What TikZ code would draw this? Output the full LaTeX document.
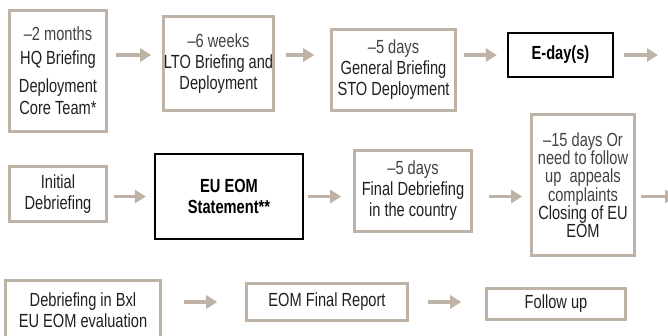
\documentclass[tikz,border=0pt]{standalone}
\usepackage{fontspec}
\setmainfont{Liberation Sans}[FakeStretch=0.77]
\usetikzlibrary{arrows.meta}

\definecolor{framegray}{RGB}{190,179,166}
\definecolor{inkgray}{RGB}{35,31,32}
\newcommand{\lighttext}[1]{{\color{inkgray!85}#1}}

\begin{document}
\begin{tikzpicture}[x=1pt, y=-1pt,
  stage/.style={draw=framegray, line width=2.6pt, inner sep=0pt, align=center,
    text=inkgray, font=\fontsize{19}{21}\selectfont},
  keystage/.style={stage, draw=black, line width=2.2pt, text=black,
    font=\fontsize{19}{21}\selectfont\bfseries},
  flow/.style={draw=framegray, line width=3.2pt, -{Triangle[length=11pt, width=13pt]}}]

  \useasboundingbox (0, 0) rectangle (668, 335);

  % first row
  \node[stage, minimum width=97, minimum height=121] (hq) at (58, 71)
    {\lighttext{–2 months}\\[3pt] HQ Briefing\\[7pt] Deployment\\[1pt] Core Team*};
  \node[stage, minimum width=110, minimum height=94] (lto) at (218.5, 63.5)
    {\lighttext{–6 weeks}\\ LTO Briefing and\\ Deployment};
  \node[stage, minimum width=124, minimum height=81] (gen) at (393.5, 70)
    {\lighttext{–5 days}\\ General Briefing\\ STO Deployment};
  \node[keystage, minimum width=105, minimum height=44] (eday) at (560.5, 55) {E-day(s)};
  \coordinate (out1) at (658, 55);

  \draw[flow, shorten <=8pt, shorten >=11pt] (hq.east |- eday.west) -- (lto.west |- eday.west);
  \draw[flow, shorten <=11pt, shorten >=16pt] (lto.east |- eday.west) -- (gen.west |- eday.west);
  \draw[flow, shorten <=7pt, shorten >=10pt] (gen.east |- eday.west) -- (eday.west);
  \draw[flow, shorten <=10pt] (eday.east) -- (out1);

  % second row
  \node[stage, minimum width=97, minimum height=55] (init) at (58, 194)
    {Initial\\ Debriefing};
  \node[keystage, minimum width=148, minimum height=85] (stmt) at (229, 196.5)
    {EU EOM\\ Statement**};
  \node[stage, minimum width=117, minimum height=81] (final) at (413, 191)
    {\lighttext{–5 days}\\ Final Debriefing\\ in the country};
  \node[stage, minimum width=103, minimum height=141, font=\fontsize{19}{17.5}\selectfont] (closing) at (583, 185)
    {\lighttext{–15 days Or}\\ \lighttext{need to follow}\\ \lighttext{up~ appeals}\\
     \lighttext{complaints}\\ Closing of EU\\ EOM};
  \coordinate (out2) at (676, 196.5);

  \draw[flow, shorten <=6pt, shorten >=8pt] (init.east |- stmt.west) -- (stmt.west);
  \draw[flow, shorten <=4pt, shorten >=12pt] (stmt.east) -- (final.west |- stmt.east);
  \draw[flow, shorten <=16pt, shorten >=8pt] (final.east |- stmt.east) -- (closing.west |- stmt.east);
  \draw[flow, shorten <=5pt] (closing.east |- stmt.east) -- (out2);

  % third row
  \node[stage, minimum width=155, minimum height=59] (bxl) at (83, 310)
    {Debriefing in Bxl\\ EU EOM evaluation};
  \node[stage, minimum width=161, minimum height=37] (report) at (327, 302)
    {EOM Final Report};
  \node[stage, minimum width=139, minimum height=31] (follow) at (556, 304)
    {Follow up};

  \draw[flow, shorten <=22pt, shorten >=28pt] (bxl.east |- report.west) -- (report.west);
  \draw[flow, shorten <=19pt, shorten >=24pt] (report.east) -- (follow.west |- report.east);

\end{tikzpicture}
\end{document}
